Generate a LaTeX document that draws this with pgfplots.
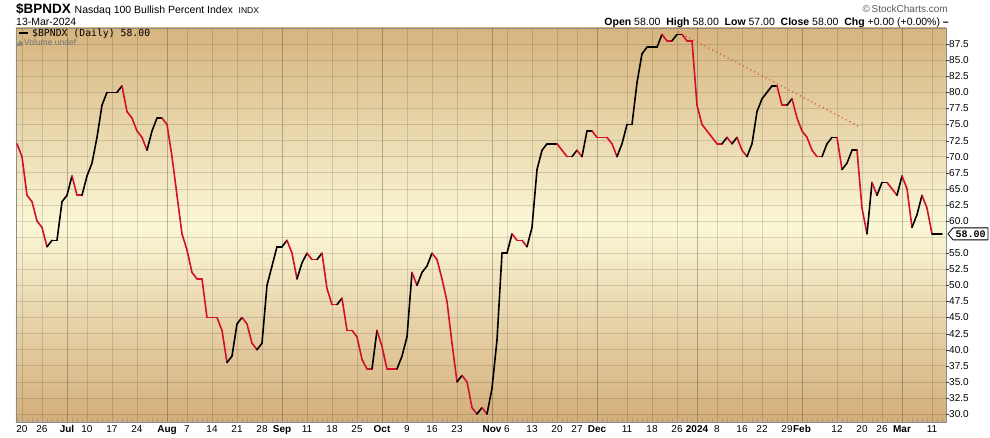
\documentclass[border=0pt]{standalone}
\usepackage{pgfplots}
\pgfplotsset{compat=1.18}
\usepackage{pgfplotstable}
\usepackage{fontspec}
\setmainfont{Liberation Sans}
\newfontfamily\dvmono{DejaVu Sans Mono}
\newfontfamily\lmono{Liberation Mono}
\definecolor{bgtop}{HTML}{D6B47E}
\definecolor{bgmid}{HTML}{FBF7D6}
\definecolor{bgbot}{HTML}{D3AE7A}
\definecolor{dnred}{HTML}{D2102C}
\definecolor{trendred}{HTML}{E0402E}

% i = trading day (0 = 16 Jun 2023), v = index value, c = 1 if segment to next day is drawn red
\pgfplotstableread{
i v c
0 72 1
1 70 1
2 64 1
3 63 1
4 60 1
5 59 1
6 56 0
7 57 0
8 57 0
9 63 0
10 64 0
11 67 1
12 64 1
13 64 0
14 67 0
15 69 0
16 73 0
17 78 0
18 80 0
19 80 0
20 80 0
21 81 1
22 77 1
23 76 1
24 74 1
25 73 1
26 71 0
27 74 0
28 76 0
29 76 1
30 75 1
31 70 1
32 64 1
33 58 1
34 55.5 1
35 52 1
36 51 1
37 51 1
38 45 1
39 45 1
40 45 1
41 43 1
42 38 0
43 39 0
44 44 0
45 45 1
46 44 1
47 41 1
48 40 0
49 41 0
50 50 0
51 53 0
52 56 0
53 56 0
54 57 1
55 55 1
56 51 0
57 53.5 0
58 55 1
59 54 1
60 54 0
61 55 1
62 49.5 1
63 47 1
64 47 0
65 48 1
66 43 1
67 43 1
68 42 1
69 38.5 1
70 37 1
71 37 0
72 43 1
73 40.5 1
74 37 1
75 37 1
76 37 0
77 39 0
78 42 0
79 52 1
80 50 0
81 52 0
82 53 0
83 55 1
84 54 1
85 51 1
86 47.5 1
87 41 1
88 35 0
89 36 1
90 35 1
91 31 1
92 30 0
93 31 1
94 30 0
95 34 0
96 41.5 0
97 55 0
98 55 0
99 58 1
100 57 1
101 57 1
102 56 0
103 59 0
104 68 0
105 71 0
106 72 0
107 72 0
108 72 1
109 71 1
110 70 1
111 70 0
112 71 1
113 70 0
114 74 0
115 74 1
116 73 1
117 73 1
118 73 1
119 72 1
120 70 0
121 72 0
122 75 0
123 75 0
124 81.5 0
125 86 0
126 87 0
127 87 0
128 87 0
129 89 1
130 88 1
131 88 0
132 89 0
133 89 1
134 88 1
135 88 1
136 78 1
137 75 1
138 74 1
139 73 1
140 72 1
141 72 0
142 73 1
143 72 0
144 73 1
145 71 1
146 70 0
147 72 0
148 77 0
149 79 0
150 80 0
151 81 0
152 81 1
153 78 1
154 78 0
155 79 1
156 76 1
157 74 1
158 73 1
159 71 1
160 70 1
161 70 0
162 72 0
163 73 0
164 73 1
165 68 0
166 69 0
167 71 0
168 71 1
169 62 1
170 58 0
171 66 1
172 64 0
173 66 0
174 66 1
175 65 1
176 64 0
177 67 1
178 65 1
179 59 0
180 61 0
181 64 1
182 62 1
183 58 0
184 58 0
185 58 0
}\bpdata

\begin{document}
\begin{tikzpicture}
\path[use as bounding box] (-16pt,-16pt) rectangle (974pt,422pt);
\begin{axis}[
  at={(0pt,0pt)}, anchor=south west,
  scale only axis, width=930pt, height=394pt,
  xmin=-0.2, xmax=185.8, ymin=28.76, ymax=90,
  axis background/.style={shade, top color=bgtop, bottom color=bgbot, middle color=bgmid},
  axis line style={draw=black!45, line width=0.6pt},
  xmajorgrids, ymajorgrids,
  major grid style={draw=black, opacity=0.13, line width=0.6pt},
  xtick={1,5,10,14,19,24,30,34,39,44,49,53,58,63,68,73,78,83,88,95,98,103,108,112,116,122,127,132,136,140,145,149,154,157,164,169,173,177,183},
  xticklabels={20,26,\textbf{Jul},10,17,24,\textbf{Aug},7,14,21,28,\textbf{Sep},11,18,25,\textbf{Oct},9,16,23,\textbf{Nov},6,13,20,27,\textbf{Dec},11,18,26,\textbf{2024},8,16,22,29,\textbf{Feb},12,20,26,\textbf{Mar},11},
  extra x ticks={10,30,53,73,95,116,136,157,177},
  extra x tick labels={},
  extra x tick style={grid style={draw=black, opacity=0.28, line width=0.7pt}},
  minor xtick={0,1,...,185},
  xtick pos=bottom,
  ytick pos=right,
  tick align=inside,
  major tick length=0pt,
  minor tick length=2.5pt,
  minor x tick style={draw=black!40, line width=0.6pt},
  xticklabel style={font=\fontsize{10}{12}\selectfont, anchor=base, yshift=-11pt},
  ytick={30,32.5,...,55,60,62.5,...,87.5},
  extra y ticks={57.5},
  extra y tick labels={},
  extra y tick style={grid style={draw=black, opacity=0.13, line width=0.6pt}},
  yticklabel={\textcolor{black!75}{\rule[0.3em]{3pt}{0.5pt}}\pgfmathprintnumber[fixed,fixed zerofill,precision=1]{\tick}},
  yticklabel style={font=\fontsize{10}{12}\selectfont, anchor=west, inner sep=0pt},
  /pgf/number format/assume math mode=true,
  colormap={rb}{color=(black) color=(dnred)},
  point meta min=0, point meta max=1,
  clip=true,
]
\addplot[trendred, line width=1.1pt, dash pattern=on 1.1pt off 3.2pt] coordinates {(132.2,89.4) (168.6,74.6)};
\addplot[mesh, shader=flat corner, point meta=\thisrow{c}, line width=1.6pt, line cap=round, line join=round] table[x=i, y=v] {\bpdata};
\end{axis}
% header
\node[anchor=base west, inner sep=0pt] at (0pt,408pt) {\fontsize{13.5}{15}\selectfont\bfseries \$BPNDX\ \mdseries\fontsize{10.5}{12}\selectfont Nasdaq 100 Bullish Percent Index\ \ \fontsize{8.5}{10}\selectfont INDX};
\node[anchor=base west, inner sep=0pt] at (0pt,396pt) {\fontsize{10.5}{12}\selectfont 13-Mar-2024};
\node[anchor=base east, inner sep=0pt, text=black!65] at (932pt,409pt) {\fontsize{10}{12}\selectfont \textcopyright\,StockCharts.com};
\node[anchor=base east, inner sep=0pt] at (933pt,396pt) {\fontsize{10.5}{12}\selectfont \textbf{Open} 58.00\ \ \textbf{High} 58.00\ \ \textbf{Low} 57.00\ \ \textbf{Close} 58.00\ \ \textbf{Chg} +0.00 (+0.00\%)\ \textbf{--}};
% legend in plot
\draw[black, line width=2pt] (3pt,389pt) -- (12pt,389pt);
\node[anchor=base west, inner sep=0pt] at (16pt,385pt) {\dvmono\fontsize{9.8}{11}\selectfont \$BPNDX (Daily) 58.00};
\fill[black!55] (1.5pt,376pt) rectangle (2.7pt,379pt) (3.4pt,376pt) rectangle (4.6pt,381pt) (5.3pt,376pt) rectangle (6.5pt,380pt);
\node[anchor=base west, inner sep=0pt, text=black!55] at (8pt,376pt) {\fontsize{8.5}{10}\selectfont Volume undef};
% last value marker
\draw[fill=white, line width=0.8pt] (932pt,188.1pt) -- (937pt,194.1pt) -- (972pt,194.1pt) -- (972pt,182.1pt) -- (937pt,182.1pt) -- cycle;
\node[inner sep=0pt] at (954.5pt,188.1pt) {\lmono\bfseries\fontsize{10}{11}\selectfont 58.00};
\end{tikzpicture}
\end{document}
